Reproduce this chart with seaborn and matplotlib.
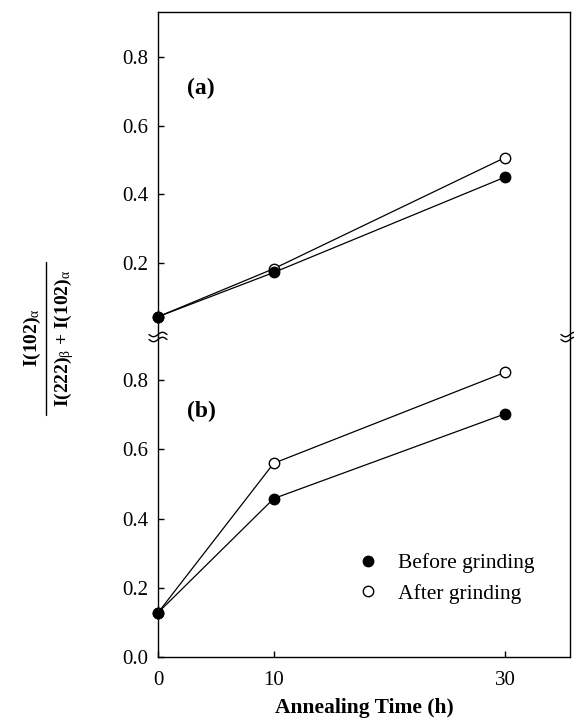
import numpy as np
import pandas as pd
import matplotlib
matplotlib.use("Agg")
import matplotlib.pyplot as plt
from matplotlib.lines import Line2D
import seaborn as sns

# ---- data ----
time_h = [0, 10, 30]
a_before = [0.043, 0.172, 0.450]
a_after = [0.043, 0.183, 0.507]
b_before = [0.128, 0.458, 0.703]
b_after = [0.128, 0.560, 0.823]
series_labels = ["Before grinding", "After grinding"]
x_ticks = [0, 10, 30]
a_yticks = [0.2, 0.4, 0.6, 0.8]
b_yticks = [0.0, 0.2, 0.4, 0.6, 0.8]

sns.set_style("ticks")
plt.rcParams["font.family"] = ["Liberation Serif", "DejaVu Serif"]
plt.rcParams["text.color"] = "black"
plt.rcParams["axes.labelcolor"] = "black"
plt.rcParams["mathtext.fontset"] = "custom"
plt.rcParams["mathtext.rm"] = "Liberation Serif"
plt.rcParams["mathtext.it"] = "Liberation Serif"
plt.rcParams["mathtext.bf"] = "Liberation Serif:bold"

FS = 15
W_PX, H_PX = 574, 722
fig = plt.figure(figsize=(W_PX / 100, H_PX / 100), dpi=100)

left_px, right_px = 158, 570
top_px, brk_px, bot_px = 12, 337, 657
L = left_px / W_PX
W = (right_px - left_px) / W_PX
ax_a = fig.add_axes([L, 1 - brk_px / H_PX, W, (brk_px - top_px) / H_PX])
ax_b = fig.add_axes([L, 1 - bot_px / H_PX, W, (bot_px - brk_px) / H_PX])

line_kw = dict(color="black", linewidth=0.9, marker="o", markersize=7.5,
               markeredgecolor="black", markeredgewidth=1.0, clip_on=False)

for ax, after, before in [(ax_a, a_after, a_before), (ax_b, b_after, b_before)]:
    df_after = pd.DataFrame({"t": time_h, "v": after})
    df_before = pd.DataFrame({"t": time_h, "v": before})
    sns.lineplot(data=df_after, x="t", y="v", ax=ax, markerfacecolor="white",
                 legend=False, **line_kw)
    sns.lineplot(data=df_before, x="t", y="v", ax=ax, markerfacecolor="black",
                 legend=False, **line_kw)
    ax.set_xlim(0, 35.6)
    ax.set_xlabel("")
    ax.set_ylabel("")
    for s in ax.spines.values():
        s.set_linewidth(1.0)
        s.set_color("black")
    ax.tick_params(direction="in", length=4, width=1.0, labelsize=FS,
                   colors="black", pad=7)
    ax.set_facecolor("none")

ax_a.set_ylim(-0.016, 0.931)
ax_a.set_yticks(a_yticks)
ax_a.set_yticklabels([f"{v:.1f}" for v in a_yticks])
ax_a.set_xticks([])
ax_a.spines["bottom"].set_visible(False)
ax_a.spines["top"].set_visible(True)
ax_a.spines["right"].set_visible(True)

ax_b.set_ylim(0, 0.925)
ax_b.set_yticks(b_yticks)
ax_b.set_yticklabels([f"{v:.1f}" for v in b_yticks])
ax_b.set_xticks(x_ticks)
ax_b.set_xticklabels([str(v) for v in x_ticks])
ax_b.tick_params(axis="x", pad=10)
ax_b.spines["top"].set_visible(False)
ax_b.spines["right"].set_visible(True)
ax_b.set_xlabel("Annealing Time (h)", fontsize=15.5, fontweight="bold",
                labelpad=6)

ax_a.text(0.07, 0.766, "(a)", transform=ax_a.transAxes, fontsize=17,
          fontweight="bold", ha="left", va="center")
ax_b.text(0.07, 0.766, "(b)", transform=ax_b.transAxes, fontsize=17,
          fontweight="bold", ha="left", va="center")

# legend
handles = [
    Line2D([], [], marker="o", linestyle="none", color="black",
           markerfacecolor="black", markersize=7.5),
    Line2D([], [], marker="o", linestyle="none", color="black",
           markerfacecolor="white", markersize=7.5),
]
fig.legend(handles, series_labels, loc="upper left",
           bbox_to_anchor=(357 / W_PX, 1 - 553 / H_PX), frameon=False,
           fontsize=15.5, handlelength=1.0, handletextpad=0.9,
           labelspacing=0.5, borderpad=0, borderaxespad=0)

# y-label as fraction
cy = 1 - 338 / H_PX
fig.text(32 / W_PX, cy, r"I(102)$_{\alpha}$", rotation=90, ha="center",
         va="center", fontsize=14, fontweight="bold")
fig.text(64 / W_PX, cy, r"I(222)$_{\beta}$ + I(102)$_{\alpha}$", rotation=90,
         ha="center", va="center", fontsize=14, fontweight="bold")
fig.add_artist(Line2D([46 / W_PX, 46 / W_PX], [1 - 262 / H_PX, 1 - 415 / H_PX],
                      transform=fig.transFigure, color="black", linewidth=1.0))

# axis break marks (decoration)
u = np.linspace(-1, 1, 40)
for xc in (left_px, right_px):
    for dy in (-2.5, 2.5):
        xs = (xc + 9 * u) / W_PX
        ys = 1 - (brk_px + dy - 2.2 * np.sin(np.pi * u)) / H_PX
        fig.add_artist(Line2D(xs, ys, transform=fig.transFigure,
                              color="black", linewidth=1.0))

fig.savefig("out.png", dpi=100)
